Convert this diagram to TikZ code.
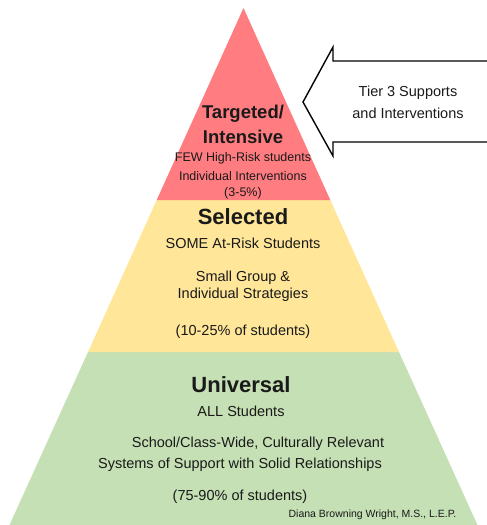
\documentclass[tikz,border=0pt]{standalone}
\usepackage{fontspec}
\setmainfont{Liberation Sans}
\definecolor{tierred}{HTML}{FF7C80}
\definecolor{tieryellow}{HTML}{FFE699}
\definecolor{tiergreen}{HTML}{C5E0B4}
\definecolor{txt}{HTML}{1A1A1A}
\begin{document}
\begin{tikzpicture}[x=1pt,y=-1pt,
  lbl/.style={inner sep=0pt,text=txt,font=\fontsize{14.5}{16}\selectfont},
  small/.style={inner sep=0pt,text=txt,font=\fontsize{12.5}{14}\selectfont},
  head/.style={inner sep=0pt,text=txt,font=\fontsize{22}{24}\selectfont\bfseries},
  headsm/.style={inner sep=0pt,text=txt,font=\fontsize{18.5}{20}\selectfont\bfseries},
  credit/.style={inner sep=0pt,text=txt,font=\fontsize{10.5}{12}\selectfont}]
\useasboundingbox (0,0) rectangle (487,525);
% pyramid tiers
\fill[tiergreen] (88,352) -- (399,352) -- (477.5,525) -- (9.5,525) -- cycle;
\fill[tieryellow] (156.7,200) -- (330.3,200) -- (399,352) -- (88,352) -- cycle;
\fill[tierred] (243.5,8) -- (330.3,200) -- (156.7,200) -- cycle;
% arrow
\filldraw[fill=white,draw=black,line width=1.4pt,line join=miter]
  (488,61) -- (333,61) -- (333,47) -- (303,102) -- (333,156) -- (333,142) -- (488,142);
\node[lbl] (a1) at (408,93) {Tier 3 Supports};
\node[lbl] (a2) at (408,113) {and Interventions};
% top tier
\node[headsm] (t1) at (243,114) {Targeted/};
\node[headsm] (t2) at (243,137) {Intensive};
\node[small] (t3) at (243,158) {FEW High-Risk students};
\node[small] (t4) at (243,176) {Individual Interventions};
\node[small] (t5) at (243,193) {(3-5\%)};
% middle tier
\node[head] (s1) at (243,217) {Selected};
\node[lbl] (s2) at (243,243) {SOME At-Risk Students};
\node[lbl] (s3) at (243,278) {Small Group \&};
\node[lbl] (s4) at (243,295) {Individual Strategies};
\node[lbl] (s5) at (243,332) {(10-25\% of students)};
% bottom tier
\node[head] (u1) at (241,385) {Universal};
\node[lbl] (u2) at (241,411) {ALL Students};
\node[lbl] (u3) at (258,444) {School/Class-Wide, Culturally Relevant};
\node[lbl] (u4) at (240,465) {Systems of Support with Solid Relationships};
\node[lbl] (u5) at (240,497) {(75-90\% of students)};
\node[credit] (c1) at (372.5,515) {Diana Browning Wright, M.S., L.E.P.};
\end{tikzpicture}
\end{document}
